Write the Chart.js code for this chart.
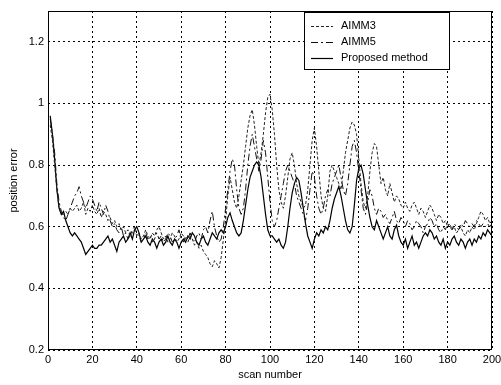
<!DOCTYPE html>
<html>
<head>
<meta charset="utf-8">
<script src="https://cdn.jsdelivr.net/npm/chart.js@4"></script>
<style>
  html, body { margin: 0; padding: 0; background: #fff; }
  #wrap { width: 501px; height: 385px; }
</style>
</head>
<body>
<div id="wrap"><canvas id="errChart"></canvas></div>
<script>
// scan numbers 1..200
const scans = Array.from({ length: 200 }, (_, i) => i + 1);
const xTicks = [0, 20, 40, 60, 80, 100, 120, 140, 160, 180, 200];
const yTicks = [0.2, 0.4, 0.6, 0.8, 1, 1.2];

const aimm3 = [
    0.93, 0.88, 0.80, 0.72, 0.66, 0.65, 0.64, 0.65, 0.64, 0.66,
    0.65, 0.66, 0.67, 0.65, 0.66, 0.68, 0.64, 0.66, 0.65, 0.67,
    0.65, 0.64, 0.66, 0.63, 0.65, 0.64, 0.62, 0.63, 0.61, 0.62,
    0.60, 0.61, 0.59, 0.60, 0.58, 0.59, 0.57, 0.58, 0.59, 0.57,
    0.58, 0.56, 0.57, 0.59, 0.57, 0.56, 0.58, 0.57, 0.59, 0.60,
    0.58, 0.56, 0.57, 0.55, 0.56, 0.58, 0.57, 0.55, 0.56, 0.58,
    0.57, 0.56, 0.55, 0.57, 0.56, 0.54, 0.55, 0.53, 0.54, 0.52,
    0.51, 0.50, 0.48, 0.47, 0.49, 0.48, 0.466, 0.50, 0.56, 0.62,
    0.70, 0.76, 0.72, 0.68, 0.66, 0.70, 0.75, 0.80, 0.86, 0.92,
    0.96, 0.98, 0.93, 0.86, 0.80, 0.84, 0.90, 0.97, 1.02, 1.03,
    0.98, 0.90, 0.80, 0.72, 0.68, 0.66, 0.70, 0.76, 0.82, 0.84,
    0.80, 0.74, 0.70, 0.68, 0.66, 0.67, 0.72, 0.80, 0.88, 0.92,
    0.86, 0.78, 0.70, 0.66, 0.65, 0.70, 0.78, 0.80, 0.78, 0.76,
    0.74, 0.72, 0.78, 0.84, 0.88, 0.92, 0.94, 0.93, 0.90, 0.82,
    0.74, 0.68, 0.66, 0.70, 0.78, 0.84, 0.87, 0.86, 0.80, 0.74,
    0.76, 0.72, 0.70, 0.74, 0.71, 0.68, 0.70, 0.69, 0.67, 0.66,
    0.68, 0.66, 0.65, 0.67, 0.68, 0.66, 0.64, 0.66, 0.65, 0.63,
    0.65, 0.67, 0.66, 0.64, 0.62, 0.64, 0.63, 0.61, 0.62, 0.60,
    0.61, 0.59, 0.60, 0.58, 0.59, 0.60, 0.58, 0.57, 0.59, 0.58,
    0.60, 0.59, 0.61, 0.63, 0.65, 0.64, 0.62, 0.63, 0.61, 0.62
];

const aimm5 = [
    0.95, 0.90, 0.84, 0.74, 0.68, 0.65, 0.63, 0.62, 0.64, 0.66,
    0.68, 0.70, 0.71, 0.73, 0.70, 0.68, 0.66, 0.68, 0.70, 0.69,
    0.67, 0.65, 0.68, 0.66, 0.64, 0.67, 0.65, 0.62, 0.60, 0.61,
    0.59, 0.58, 0.60, 0.57, 0.58, 0.56, 0.57, 0.59, 0.60, 0.58,
    0.57, 0.55, 0.56, 0.58, 0.56, 0.57, 0.55, 0.56, 0.58, 0.56,
    0.57, 0.55, 0.56, 0.58, 0.57, 0.55, 0.56, 0.57, 0.59, 0.56,
    0.55, 0.57, 0.56, 0.58, 0.56, 0.55, 0.57, 0.58, 0.56, 0.59,
    0.60, 0.58, 0.62, 0.65, 0.60, 0.57, 0.55, 0.56, 0.60, 0.66,
    0.72, 0.78, 0.82, 0.80, 0.72, 0.66, 0.64, 0.66, 0.72, 0.80,
    0.86, 0.90, 0.86, 0.82, 0.78, 0.82, 0.88, 0.84, 0.76, 0.68,
    0.62, 0.60, 0.62, 0.66, 0.70, 0.74, 0.78, 0.80, 0.78, 0.76,
    0.74, 0.70, 0.68, 0.66, 0.64, 0.62, 0.66, 0.72, 0.78, 0.76,
    0.70, 0.66, 0.64, 0.66, 0.70, 0.72, 0.70, 0.74, 0.76, 0.78,
    0.80, 0.76, 0.72, 0.70, 0.74, 0.80, 0.86, 0.88, 0.84, 0.78,
    0.72, 0.66, 0.64, 0.68, 0.72, 0.70, 0.66, 0.64, 0.66, 0.65,
    0.63, 0.64, 0.62, 0.61, 0.63, 0.65, 0.62, 0.61, 0.63, 0.62,
    0.60, 0.62, 0.61, 0.59, 0.60, 0.62, 0.61, 0.60, 0.58, 0.60,
    0.61, 0.63, 0.62, 0.60, 0.61, 0.59, 0.58, 0.60, 0.59, 0.61,
    0.60, 0.59, 0.61, 0.60, 0.59, 0.61, 0.60, 0.62, 0.61, 0.60,
    0.61, 0.60, 0.62, 0.61, 0.60, 0.61, 0.60, 0.61, 0.60, 0.61
];

const proposed = [
    0.96, 0.90, 0.82, 0.72, 0.66, 0.64, 0.65, 0.62, 0.60, 0.58,
    0.57, 0.58, 0.57, 0.56, 0.55, 0.53, 0.51, 0.52, 0.53, 0.54,
    0.53, 0.53, 0.54, 0.54, 0.55, 0.56, 0.57, 0.55, 0.56, 0.54,
    0.52, 0.55, 0.56, 0.57, 0.55, 0.56, 0.58, 0.56, 0.59, 0.60,
    0.58, 0.55, 0.56, 0.57, 0.55, 0.54, 0.56, 0.55, 0.53, 0.55,
    0.56, 0.54, 0.55, 0.57, 0.55, 0.54, 0.56, 0.55, 0.53, 0.55,
    0.56, 0.55, 0.57, 0.56, 0.58, 0.57, 0.55, 0.54, 0.56, 0.57,
    0.55, 0.54, 0.56, 0.58, 0.57, 0.56, 0.58, 0.59, 0.58, 0.60,
    0.63, 0.645, 0.62, 0.60, 0.58, 0.57, 0.58, 0.62, 0.67, 0.72,
    0.76, 0.78, 0.80, 0.81, 0.80, 0.76, 0.70, 0.64, 0.59, 0.57,
    0.57, 0.56, 0.55, 0.56, 0.54, 0.53, 0.55, 0.60, 0.66, 0.71,
    0.74, 0.76, 0.75, 0.71, 0.66, 0.61, 0.57, 0.55, 0.53, 0.56,
    0.58, 0.57, 0.59, 0.58, 0.60, 0.59, 0.62, 0.66, 0.69, 0.71,
    0.73, 0.70, 0.66, 0.62, 0.59, 0.58, 0.60, 0.67, 0.75, 0.79,
    0.80, 0.77, 0.72, 0.67, 0.63, 0.60, 0.59, 0.62, 0.60, 0.58,
    0.56, 0.58, 0.60, 0.57, 0.56, 0.59, 0.605, 0.57, 0.55, 0.54,
    0.56, 0.53, 0.55, 0.57, 0.54, 0.55, 0.53, 0.55, 0.57, 0.58,
    0.57, 0.59, 0.58, 0.56, 0.57, 0.55, 0.54, 0.56, 0.53, 0.55,
    0.54, 0.56, 0.57, 0.55, 0.54, 0.56, 0.55, 0.53, 0.55, 0.56,
    0.54, 0.56, 0.55, 0.57, 0.56, 0.58, 0.57, 0.59, 0.58, 0.57
];

const FONT = '"Liberation Sans", Arial, sans-serif';

function toPoints(values) {
    return values.map((v, i) => ({ x: scans[i], y: v }));
}

// frame around the plot area plus the boxed legend in the top right corner
const frameAndLegend = {
    id: 'frameAndLegend',
    afterDatasetsDraw(chart) {
        const { ctx, chartArea } = chart;
        ctx.save();
        ctx.strokeStyle = '#000';
        ctx.lineWidth = 1;
        ctx.setLineDash([]);
        ctx.strokeRect(chartArea.left + 0.5, chartArea.top + 0.5,
            chartArea.right - chartArea.left - 1, chartArea.bottom - chartArea.top - 1);

        const boxW = 145, boxH = 57;
        const bx = chartArea.right - 43 - boxW;
        const by = chartArea.top + 1;
        ctx.fillStyle = '#fff';
        ctx.fillRect(bx, by, boxW, boxH);
        ctx.strokeRect(bx + 0.5, by + 0.5, boxW, boxH);

        ctx.font = '11px ' + FONT;
        ctx.textBaseline = 'middle';
        chart.data.datasets.forEach((ds, i) => {
            const y = by + 14 + i * 16;
            ctx.beginPath();
            ctx.strokeStyle = ds.borderColor;
            ctx.lineWidth = ds.borderWidth;
            ctx.setLineDash(ds.borderDash || []);
            ctx.moveTo(bx + 7, y + 0.5);
            ctx.lineTo(bx + 29, y + 0.5);
            ctx.stroke();
            ctx.setLineDash([]);
            ctx.fillStyle = '#000';
            ctx.fillText(ds.label, bx + 37, y);
        });
        ctx.restore();
    }
};

function renderChart() {
    const ctx = document.getElementById('errChart').getContext('2d');
    new Chart(ctx, {
        type: 'line',
        data: {
            datasets: [
                {
                    label: 'AIMM3',
                    data: toPoints(aimm3),
                    borderColor: '#222',
                    borderWidth: 1,
                    borderDash: [3, 2],
                },
                {
                    label: 'AIMM5',
                    data: toPoints(aimm5),
                    borderColor: '#111',
                    borderWidth: 1,
                    borderDash: [7, 3, 2, 3],
                },
                {
                    label: 'Proposed method',
                    data: toPoints(proposed),
                    borderColor: '#000',
                    borderWidth: 1.2,
                    borderDash: [],
                },
            ],
        },
        options: {
            responsive: true,
            maintainAspectRatio: false,
            animation: false,
            layout: { padding: { top: 11, right: 9, left: 0, bottom: 0 } },
            elements: {
                point: { radius: 0 },
                line: { tension: 0, fill: false },
            },
            plugins: {
                legend: { display: false },
                tooltip: { enabled: false },
            },
            scales: {
                x: {
                    type: 'linear',
                    min: 0,
                    max: 200,
                    afterBuildTicks: (scale) => {
                        scale.ticks = xTicks.map(v => ({ value: v }));
                    },
                    afterFit: (scale) => {
                        scale.height = 35;
                        scale.paddingLeft = 0;
                        scale.paddingRight = 0;
                    },
                    grid: {
                        color: '#000',
                        lineWidth: 1,
                        drawTicks: false,
                    },
                    border: { display: false, dash: [2, 3] },
                    ticks: {
                        color: '#000',
                        font: { family: FONT, size: 11 },
                        padding: 3,
                        maxRotation: 0,
                    },
                    title: {
                        display: true,
                        text: 'scan number',
                        color: '#000',
                        font: { family: FONT, size: 11 },
                        padding: { top: 0, bottom: 3 },
                    },
                },
                y: {
                    min: 0.2,
                    max: 1.3,
                    afterBuildTicks: (scale) => {
                        scale.ticks = yTicks.map(v => ({ value: v }));
                    },
                    afterFit: (scale) => {
                        scale.width = 48;
                        scale.paddingTop = 0;
                        scale.paddingBottom = 0;
                    },
                    grid: {
                        color: '#000',
                        lineWidth: 1,
                        drawTicks: false,
                    },
                    border: { display: false, dash: [2, 3] },
                    ticks: {
                        color: '#000',
                        font: { family: FONT, size: 11 },
                        padding: 4,
                        callback: (v) => String(+Number(v).toFixed(1)),
                    },
                    title: {
                        display: true,
                        text: 'position error',
                        color: '#000',
                        font: { family: FONT, size: 11 },
                        padding: { top: 7, bottom: 0 },
                    },
                },
            },
        },
        plugins: [frameAndLegend],
    });
}

renderChart();
</script>
</body>
</html>
